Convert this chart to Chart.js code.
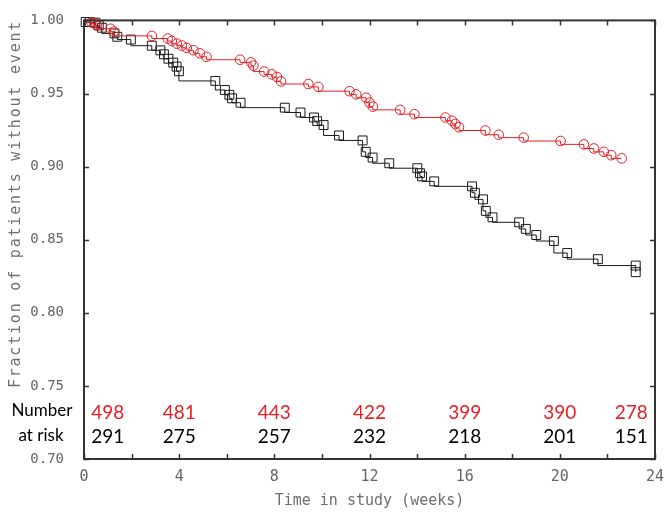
<!DOCTYPE html>
<html>
<head>
<meta charset="utf-8">
<script src="https://cdn.jsdelivr.net/npm/chart.js@4.4.0/dist/chart.umd.min.js"></script>
<style>
  html, body { margin: 0; padding: 0; background: #fff; }
  canvas { display: block; }
</style>
</head>
<body>
<canvas id="km-chart" width="667" height="518"></canvas>
<script>
// Kaplan-Meier curves, censor marks

let redTimes = [0, 0.31, 0.45, 0.53, 1.12, 1.25, 2.85, 3.52, 3.69, 3.90, 4.11, 4.32, 4.60, 4.87, 5.15,
    6.56, 7.02, 7.12, 7.57, 7.89, 8.11, 8.28, 9.43, 9.85, 11.16, 11.44, 11.86, 12.00, 12.14,
    13.29, 13.89, 15.19, 15.47, 15.61, 15.76, 16.87, 17.43, 18.48, 20.03, 21.01, 21.43, 21.85, 22.16, 22.60];
let redSurv = [1.0, 0.9987, 0.9980, 0.9966, 0.9943, 0.9923, 0.9894, 0.9876, 0.9859, 0.9841, 0.9828, 0.9812, 0.9796, 0.9775, 0.9751,
    0.9731, 0.9713, 0.9691, 0.9650, 0.9631, 0.9613, 0.9583, 0.9565, 0.9545, 0.9516, 0.9494, 0.9471, 0.9437, 0.9410,
    0.9388, 0.9359, 0.9336, 0.9314, 0.9292, 0.9269, 0.9247, 0.9218, 0.9198, 0.9175, 0.9152, 0.9124, 0.9101, 0.9078, 0.9056];

let blackTimes = [0, 0.07, 0.24, 0.48, 0.62, 0.75, 1.28, 1.40, 1.97, 2.85, 3.21, 3.36, 3.55, 3.75, 3.89, 3.99,
    5.52, 5.92, 6.11, 6.22, 6.58, 8.44, 9.10, 9.67, 9.80, 10.07, 10.72, 11.71, 11.84, 12.13, 12.83,
    14.01, 14.12, 14.21, 14.72, 16.31, 16.43, 16.77, 16.89, 17.17, 18.29, 18.57, 19.01, 19.75, 20.31,
    21.60, 23.19, 23.19];
let blackSurv = [1.0, 0.9989, 0.9989, 0.9985, 0.9966, 0.9950, 0.9911, 0.9888, 0.9869, 0.9827, 0.9795, 0.9768, 0.9738, 0.9711, 0.9684, 0.9652,
    0.9586, 0.9524, 0.9491, 0.9467, 0.9437, 0.9403, 0.9370, 0.9336, 0.9311, 0.9284, 0.9213, 0.9179, 0.9101, 0.9062, 0.9023,
    0.8989, 0.8955, 0.8933, 0.8899, 0.8865, 0.8821, 0.8776, 0.8697, 0.8653, 0.8619, 0.8574, 0.8532, 0.8491, 0.8409,
    0.8367, 0.8323, 0.8278];

// number at risk
let riskTimes = [1, 4, 8, 12, 16, 20, 23];
let riskRed = [498, 481, 443, 422, 399, 390, 278];
let riskBlack = [291, 275, 257, 232, 218, 201, 151];

let redColor = 'rgb(232, 30, 36)';
let blackColor = 'rgb(25, 25, 25)';
let axisGrey = 'rgb(100, 100, 100)';
let titleGrey = 'rgb(110, 110, 110)';

function toPoints(xs, ys) {
    return xs.map(function (x, i) { return { x: x, y: ys[i] }; });
}

// frame, inward ticks, y title and the number-at-risk table
const kmExtras = {
    id: 'kmExtras',
    afterDatasetsDraw(chart) {
        const ctx = chart.ctx;
        const area = chart.chartArea;
        const xs = chart.scales.x;
        const ys = chart.scales.y;
        const tick = 5;

        ctx.save();
        ctx.strokeStyle = '#333';
        ctx.lineWidth = 1.5;
        ctx.beginPath();
        for (let v = 0; v <= 24; v += 2) {
            let px = Math.round(xs.getPixelForValue(v)) + 0.5;
            ctx.moveTo(px, area.bottom);
            ctx.lineTo(px, area.bottom - tick);
            ctx.moveTo(px, area.top);
            ctx.lineTo(px, area.top + tick);
        }
        ys.ticks.forEach(function (t) {
            let py = Math.round(ys.getPixelForValue(t.value)) + 0.5;
            ctx.moveTo(area.left, py);
            ctx.lineTo(area.left + tick, py);
            ctx.moveTo(area.right, py);
            ctx.lineTo(area.right - tick, py);
        });
        ctx.stroke();

        ctx.lineWidth = 2;
        ctx.strokeRect(area.left, area.top, area.right - area.left, area.bottom - area.top);

        // y title sits above the risk table, not centred on the axis
        ctx.save();
        ctx.translate(16, 204);
        ctx.rotate(-Math.PI / 2);
        ctx.font = '15px "DejaVu Sans Mono"';
        ctx.letterSpacing = '1.8px';
        ctx.fillStyle = titleGrey;
        ctx.textAlign = 'center';
        ctx.textBaseline = 'middle';
        ctx.fillText('Fraction of patients without event', 0, 0);
        ctx.restore();

        ctx.textAlign = 'center';
        ctx.textBaseline = 'middle';
        let yRed = ys.getPixelForValue(0.7318);
        let yBlack = ys.getPixelForValue(0.7150);
        ctx.font = '19px Lato';
        riskTimes.forEach(function (t, i) {
            let px = xs.getPixelForValue(t);
            ctx.fillStyle = redColor;
            ctx.fillText(riskRed[i], px, yRed);
            ctx.fillStyle = '#000';
            ctx.fillText(riskBlack[i], px, yBlack);
        });
        ctx.font = '17px Lato';
        ctx.fillStyle = '#000';
        ctx.fillText('Number', 42, yRed - 2);
        ctx.fillText('at risk', 41, yBlack - 2);
        ctx.restore();
    }
};

const kmCanvas = document.getElementById('km-chart').getContext('2d');
const kmChart = new Chart(kmCanvas, {
    type: 'line',
    data: {
        datasets: [{
            label: 'Red',
            data: toPoints(redTimes, redSurv),
            stepped: 'after',
            borderColor: redColor,
            borderWidth: 1,
            pointStyle: 'circle',
            pointRadius: function (c) { return c.dataIndex === 0 ? 0 : 4.8; },
            pointBorderColor: redColor,
            pointBackgroundColor: 'rgba(0,0,0,0)',
            pointBorderWidth: 1,
            clip: false
        },
        {
            label: 'Black',
            data: toPoints(blackTimes, blackSurv),
            stepped: 'after',
            borderColor: blackColor,
            borderWidth: 1,
            pointStyle: 'rect',
            pointRadius: function (c) { return c.dataIndex === 0 ? 0 : 6.3; },
            pointBorderColor: blackColor,
            pointBackgroundColor: 'rgba(0,0,0,0)',
            pointBorderWidth: 1,
            clip: false
        }]
    },
    options: {
        responsive: false,
        animation: false,
        events: [],
        layout: {
            padding: { top: 13, right: 12, bottom: 0, left: 0 }
        },
        scales: {
            x: {
                type: 'linear',
                min: 0,
                max: 24,
                grid: { display: false },
                border: { display: false },
                ticks: {
                    stepSize: 4,
                    padding: 1,
                    color: axisGrey,
                    font: { family: 'DejaVu Sans Mono', size: 15 }
                },
                title: {
                    display: true,
                    text: 'Time in study (weeks)',
                    color: titleGrey,
                    font: { family: 'DejaVu Sans Mono', size: 15 },
                    padding: { top: 4, bottom: 8 }
                },
                afterFit: function (scale) { scale.height = 59; }
            },
            y: {
                min: 0.7,
                max: 1.0,
                grid: { display: false },
                border: { display: false },
                ticks: {
                    stepSize: 0.05,
                    padding: 12,
                    color: axisGrey,
                    font: { family: 'DejaVu Sans Mono', size: 14 },
                    callback: function (v) { return v.toFixed(2); }
                },
                title: { display: false },
                afterFit: function (scale) { scale.width = 84; }
            }
        },
        plugins: {
            legend: { display: false },
            tooltip: { enabled: false }
        }
    },
    plugins: [kmExtras]
});
</script>
</body>
</html>
